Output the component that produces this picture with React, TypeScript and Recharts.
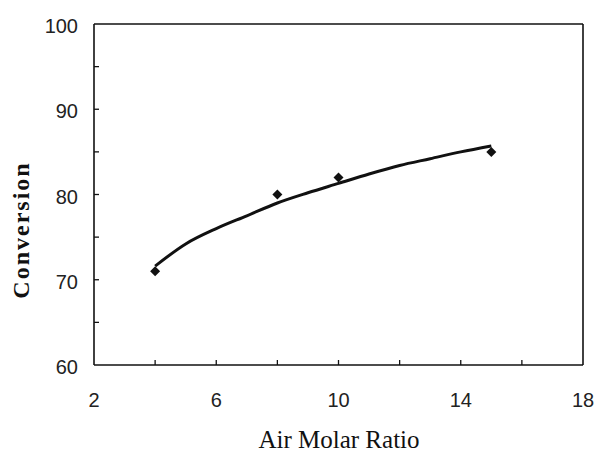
import React from "react";
import { ComposedChart, Line, Scatter, XAxis, YAxis, ReferenceLine } from "recharts";

// Fitted curve (Air Molar Ratio -> Conversion)
const curveRatio = [4, 5, 6, 7, 8, 9, 10, 11, 12, 13, 14, 15];
const curveConversion = [71.6, 74.2, 76.0, 77.5, 79.0, 80.2, 81.3, 82.4, 83.4, 84.2, 85.0, 85.7];

// Measured points
const pointRatio = [4, 8, 10, 15];
const pointConversion = [71, 80, 82, 85];

const xTicks = [2, 4, 6, 8, 10, 12, 14, 16, 18];
const xLabelTicks = [2, 6, 10, 14, 18];
const yTicks = [60, 65, 70, 75, 80, 85, 90, 95, 100];
const yLabelTicks = [60, 70, 80, 90, 100];

const curveData = curveRatio.map((r, i) => ({ ratio: r, conversion: curveConversion[i] }));
const pointData = pointRatio.map((r, i) => ({ ratio: r, conversion: pointConversion[i] }));

const tickFont = "'Liberation Sans', Arial, sans-serif";
const serif = "'Liberation Serif', 'Times New Roman', serif";

const XTick = (props: any) => {
  const { x, y, payload } = props;
  const v = payload.value;
  const isEdge = v === 2 || v === 18;
  return (
    <g>
      {!isEdge && <line x1={x} y1={y} x2={x} y2={y - 5} stroke="#111" strokeWidth={1.3} />}
      {xLabelTicks.includes(v) && (
        <text x={x} y={y + 42} textAnchor="middle" fontFamily={tickFont} fontSize={20} fill="#222">
          {v}
        </text>
      )}
    </g>
  );
};

const YTick = (props: any) => {
  const { x, y, payload } = props;
  const v = payload.value;
  const isEdge = v === 60 || v === 100;
  return (
    <g>
      {!isEdge && <line x1={x} y1={y} x2={x + 5} y2={y} stroke="#111" strokeWidth={1.3} />}
      {yLabelTicks.includes(v) && (
        <text x={x - 16} y={y + 9} textAnchor="end" fontFamily={tickFont} fontSize={20} fill="#222">
          {v}
        </text>
      )}
    </g>
  );
};

const Diamond = (props: any) => {
  const { cx, cy } = props;
  const s = 5;
  return <path d={`M${cx},${cy - s}L${cx + s},${cy}L${cx},${cy + s}L${cx - s},${cy}Z`} fill="#111" />;
};

export default function App() {
  return (
    <div style={{ position: "absolute", left: 0, top: 0, width: 596, height: 454, background: "#fff" }}>
      <ComposedChart width={596} height={454} margin={{ top: 24, right: 13, left: 0, bottom: 0 }}>
        <XAxis
          xAxisId="b"
          dataKey="ratio"
          type="number"
          domain={[2, 18]}
          ticks={xTicks}
          allowDataOverflow
          height={89}
          tickSize={0}
          tickMargin={0}
          tickLine={false}
          tick={<XTick />}
          axisLine={{ stroke: "#111", strokeWidth: 1.6 }}
          interval={0}
        />
        <YAxis
          yAxisId="l"
          type="number"
          domain={[60, 100]}
          ticks={yTicks}
          allowDataOverflow
          width={94}
          tickSize={0}
          tickMargin={0}
          tickLine={false}
          tick={<YTick />}
          axisLine={{ stroke: "#111", strokeWidth: 1.6 }}
          interval={0}
        />
        <ReferenceLine xAxisId="b" yAxisId="l" y={100} stroke="#111" strokeWidth={1.6} ifOverflow="extendDomain" />
        <ReferenceLine xAxisId="b" yAxisId="l" x={18} stroke="#111" strokeWidth={1.6} ifOverflow="extendDomain" />
        <Line
          xAxisId="b"
          yAxisId="l"
          data={curveData}
          dataKey="conversion"
          type="monotone"
          stroke="#111"
          strokeWidth={3}
          dot={false}
          activeDot={false}
          isAnimationActive={false}
        />
        <Scatter
          xAxisId="b"
          yAxisId="l"
          data={pointData}
          dataKey="conversion"
          shape={<Diamond />}
          isAnimationActive={false}
        />
        <text
          x={339}
          y={448}
          textAnchor="middle"
          fontFamily={serif}
          fontSize={25}
          fill="#111"
        >
          Air Molar Ratio
        </text>
        <text
          x={0}
          y={0}
          transform="translate(21,230) rotate(-90)"
          textAnchor="middle"
          dominantBaseline="central"
          fontFamily={serif}
          fontWeight="bold"
          fontSize={24}
          letterSpacing={2}
          fill="#111"
        >
          Conversion
        </text>
      </ComposedChart>
    </div>
  );
}
